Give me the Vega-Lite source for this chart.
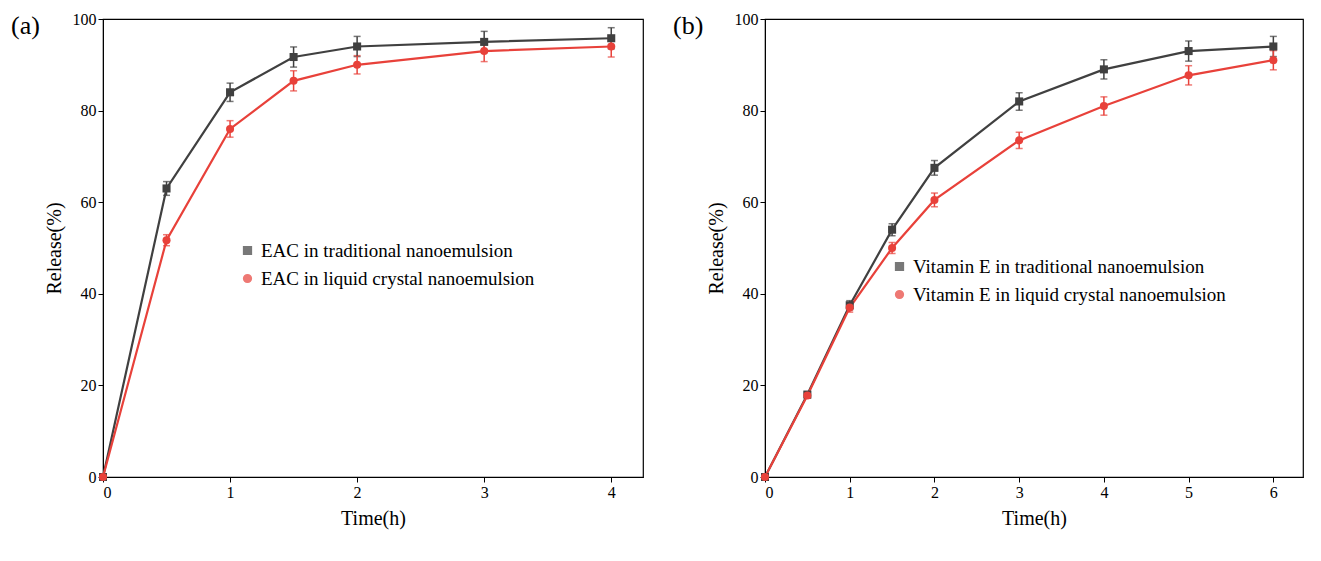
{
  "$schema": "https://vega.github.io/schema/vega-lite/v6.json",
  "padding": {"left": 10, "top": 10, "right": 5, "bottom": 5},
  "config": {
    "font": "Liberation Serif",
    "view": {"stroke": "black", "strokeWidth": 1.2},
    "axis": {"grid": false, "domainColor": "black", "tickColor": "black", "labelColor": "black", "titleColor": "black", "labelFontSize": 16, "titleFontSize": 20, "titleFontWeight": "normal", "labelFont": "Liberation Serif", "titleFont": "Liberation Serif", "titlePadding": 8},
    "legend": {"labelFontSize": 19, "labelFont": "Liberation Serif", "title": null, "symbolSize": 60, "rowPadding": 8, "labelLimit": 0},
    "title": {"fontSize": 26, "fontWeight": "normal", "font": "Liberation Serif", "anchor": "start", "frame": "group", "dx": -92, "dy": 32}
  },
  "datasets": {
    "a": [
      {"t": 0, "s": "EAC in traditional nanoemulsion", "r": 0, "e": 0},
      {"t": 0.5, "s": "EAC in traditional nanoemulsion", "r": 63, "e": 1.5},
      {"t": 1, "s": "EAC in traditional nanoemulsion", "r": 84, "e": 2},
      {"t": 1.5, "s": "EAC in traditional nanoemulsion", "r": 91.7, "e": 2.2},
      {"t": 2, "s": "EAC in traditional nanoemulsion", "r": 94, "e": 2.2},
      {"t": 3, "s": "EAC in traditional nanoemulsion", "r": 95, "e": 2.3},
      {"t": 4, "s": "EAC in traditional nanoemulsion", "r": 95.8, "e": 2.3},
      {"t": 0, "s": "EAC in liquid crystal nanoemulsion", "r": 0, "e": 0},
      {"t": 0.5, "s": "EAC in liquid crystal nanoemulsion", "r": 51.7, "e": 1.2},
      {"t": 1, "s": "EAC in liquid crystal nanoemulsion", "r": 76, "e": 1.8},
      {"t": 1.5, "s": "EAC in liquid crystal nanoemulsion", "r": 86.5, "e": 2.2},
      {"t": 2, "s": "EAC in liquid crystal nanoemulsion", "r": 90, "e": 2},
      {"t": 3, "s": "EAC in liquid crystal nanoemulsion", "r": 93, "e": 2.3},
      {"t": 4, "s": "EAC in liquid crystal nanoemulsion", "r": 94, "e": 2.3}
    ],
    "b": [
      {"t": 0, "s": "Vitamin E in traditional nanoemulsion", "r": 0, "e": 0},
      {"t": 0.5, "s": "Vitamin E in traditional nanoemulsion", "r": 18, "e": 0.6},
      {"t": 1, "s": "Vitamin E in traditional nanoemulsion", "r": 37.5, "e": 1},
      {"t": 1.5, "s": "Vitamin E in traditional nanoemulsion", "r": 54, "e": 1.3},
      {"t": 2, "s": "Vitamin E in traditional nanoemulsion", "r": 67.5, "e": 1.6},
      {"t": 3, "s": "Vitamin E in traditional nanoemulsion", "r": 82, "e": 1.9},
      {"t": 4, "s": "Vitamin E in traditional nanoemulsion", "r": 89, "e": 2.1},
      {"t": 5, "s": "Vitamin E in traditional nanoemulsion", "r": 93, "e": 2.2},
      {"t": 6, "s": "Vitamin E in traditional nanoemulsion", "r": 94, "e": 2.2},
      {"t": 0, "s": "Vitamin E in liquid crystal nanoemulsion", "r": 0, "e": 0},
      {"t": 0.5, "s": "Vitamin E in liquid crystal nanoemulsion", "r": 17.8, "e": 0.6},
      {"t": 1, "s": "Vitamin E in liquid crystal nanoemulsion", "r": 37, "e": 1},
      {"t": 1.5, "s": "Vitamin E in liquid crystal nanoemulsion", "r": 50, "e": 1.2},
      {"t": 2, "s": "Vitamin E in liquid crystal nanoemulsion", "r": 60.5, "e": 1.5},
      {"t": 3, "s": "Vitamin E in liquid crystal nanoemulsion", "r": 73.5, "e": 1.8},
      {"t": 4, "s": "Vitamin E in liquid crystal nanoemulsion", "r": 81, "e": 2},
      {"t": 5, "s": "Vitamin E in liquid crystal nanoemulsion", "r": 87.7, "e": 2.1},
      {"t": 6, "s": "Vitamin E in liquid crystal nanoemulsion", "r": 91, "e": 2.1}
    ]
  },
  "hconcat": [
    {
      "title": "(a)",
      "width": 540, "height": 458,
      "data": {"name": "a"},
      "encoding": {
        "x": {"field": "t", "type": "quantitative", "title": "Time(h)", "scale": {"domain": [0, 4.25], "nice": false}, "axis": {"values": [0, 1, 2, 3, 4], "format": "d"}},
        "y": {"field": "r", "type": "quantitative", "title": "Release(%)", "scale": {"domain": [0, 100]}, "axis": {"values": [0, 20, 40, 60, 80, 100]}},
        "color": {"field": "s", "type": "nominal", "sort": null, "scale": {"domain": ["EAC in traditional nanoemulsion", "EAC in liquid crystal nanoemulsion"], "range": ["#404040", "#e8413a"]}, "legend": {"orient": "none", "legendX": 135, "legendY": 222}}
      },
      "layer": [
        {"mark": {"type": "errorbar", "ticks": {"size": 7}, "thickness": 1.5}, "encoding": {"yError": {"field": "e"}}},
        {"mark": {"type": "line", "strokeWidth": 2.2}},
        {"mark": {"type": "point", "filled": true, "size": 65, "opacity": 1}, "encoding": {"shape": {"field": "s", "type": "nominal", "sort": null, "scale": {"domain": ["EAC in traditional nanoemulsion", "EAC in liquid crystal nanoemulsion"], "range": ["square", "circle"]}, "legend": {"orient": "none", "legendX": 135, "legendY": 222}}}}
      ]
    },
    {
      "title": "(b)",
      "width": 538, "height": 458,
      "data": {"name": "b"},
      "encoding": {
        "x": {"field": "t", "type": "quantitative", "title": "Time(h)", "scale": {"domain": [0, 6.35], "nice": false}, "axis": {"values": [0, 1, 2, 3, 4, 5, 6], "format": "d"}},
        "y": {"field": "r", "type": "quantitative", "title": "Release(%)", "scale": {"domain": [0, 100]}, "axis": {"values": [0, 20, 40, 60, 80, 100]}},
        "color": {"field": "s", "type": "nominal", "sort": null, "scale": {"domain": ["Vitamin E in traditional nanoemulsion", "Vitamin E in liquid crystal nanoemulsion"], "range": ["#404040", "#e8413a"]}, "legend": {"orient": "none", "legendX": 125, "legendY": 238}}
      },
      "layer": [
        {"mark": {"type": "errorbar", "ticks": {"size": 7}, "thickness": 1.5}, "encoding": {"yError": {"field": "e"}}},
        {"mark": {"type": "line", "strokeWidth": 2.2}},
        {"mark": {"type": "point", "filled": true, "size": 65, "opacity": 1}, "encoding": {"shape": {"field": "s", "type": "nominal", "sort": null, "scale": {"domain": ["Vitamin E in traditional nanoemulsion", "Vitamin E in liquid crystal nanoemulsion"], "range": ["square", "circle"]}, "legend": {"orient": "none", "legendX": 125, "legendY": 238}}}}
      ]
    }
  ],
  "resolve": {"scale": {"color": "independent", "shape": "independent"}},
  "spacing": 28
}
